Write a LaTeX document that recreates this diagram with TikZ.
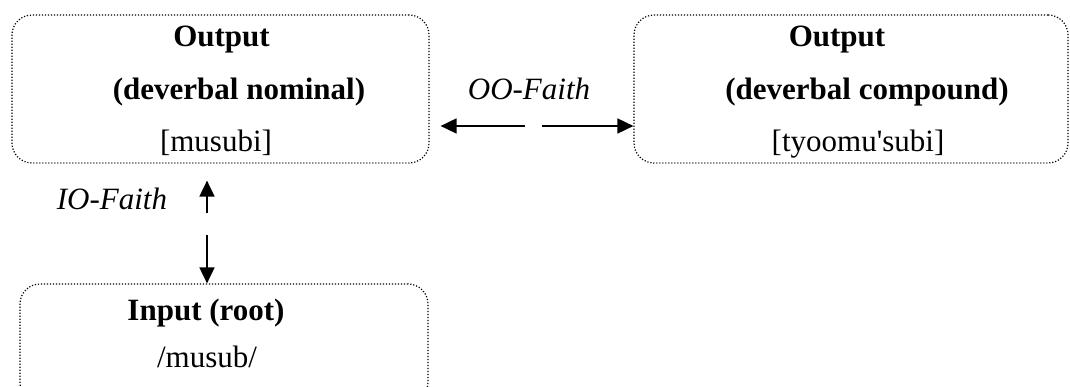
\documentclass[tikz,border=0pt]{standalone}
\usepackage{fontspec}
\setmainfont{Liberation Serif}
\usetikzlibrary{arrows.meta}
\tikzset{
  box/.style={draw=black, line width=1.2pt, dash pattern=on 1.2pt off 1.8pt, rounded corners=20pt, inner sep=0pt},
  txt/.style={anchor=base, inner sep=0pt, font=\fontsize{31}{37}\selectfont},
  bold/.style={txt, font=\fontsize{31}{37}\selectfont\bfseries},
  lbl/.style={txt, font=\fontsize{31}{37}\selectfont\itshape},
  arr/.style={line width=1.8pt, -{Triangle[length=16pt,width=15pt]}},
}
\begin{document}
\begin{tikzpicture}[x=1pt,y=-1pt]
\useasboundingbox (0,0) rectangle (1070,387);
\clip (0,0) rectangle (1070,387);
% boxes
\node[box, minimum width=417pt, minimum height=148pt] (b1) at (220.5,89) {};
\node[box, minimum width=434pt, minimum height=148pt] (b2) at (851,89) {};
\node[box, minimum width=408pt, minimum height=118pt] (b3) at (224,343) {};
% texts box 1
\node[bold] (t11) at (221.5,47) {Output};
\node[bold] (t12) at (239,100) {(deverbal nominal)};
\node[txt] (t13) at (216,152) {[musubi]};
% texts box 2
\node[bold] (t21) at (837,47) {Output};
\node[bold] (t22) at (867,100) {(deverbal compound)};
\node[txt] (t23) at (858,152) {[tyoomu\textquotesingle subi]};
% texts box 3
\node[bold] (t31) at (206,320) {Input (root)};
\node[txt] (t32) at (207,367) {/musub/};
% labels
\node[lbl] (oo) at (529,100) {OO-Faith};
\node[lbl] (io) at (112,210) {IO-Faith};
% arrow tails
\coordinate (h1) at (525,126);
\coordinate (h2) at (542,126);
\coordinate (v1) at (207,213);
\coordinate (v2) at (207,235);
% arrows
\draw[arr, shorten >=11pt] (h1) -- (h1 -| b1.east);
\draw[arr] (h2) -- (h2 -| b2.west);
\draw[arr, shorten >=17pt] (v1) -- (v1 |- b1.south);
\draw[arr] (v2) -- (v2 |- b3.north);
\end{tikzpicture}
\end{document}
